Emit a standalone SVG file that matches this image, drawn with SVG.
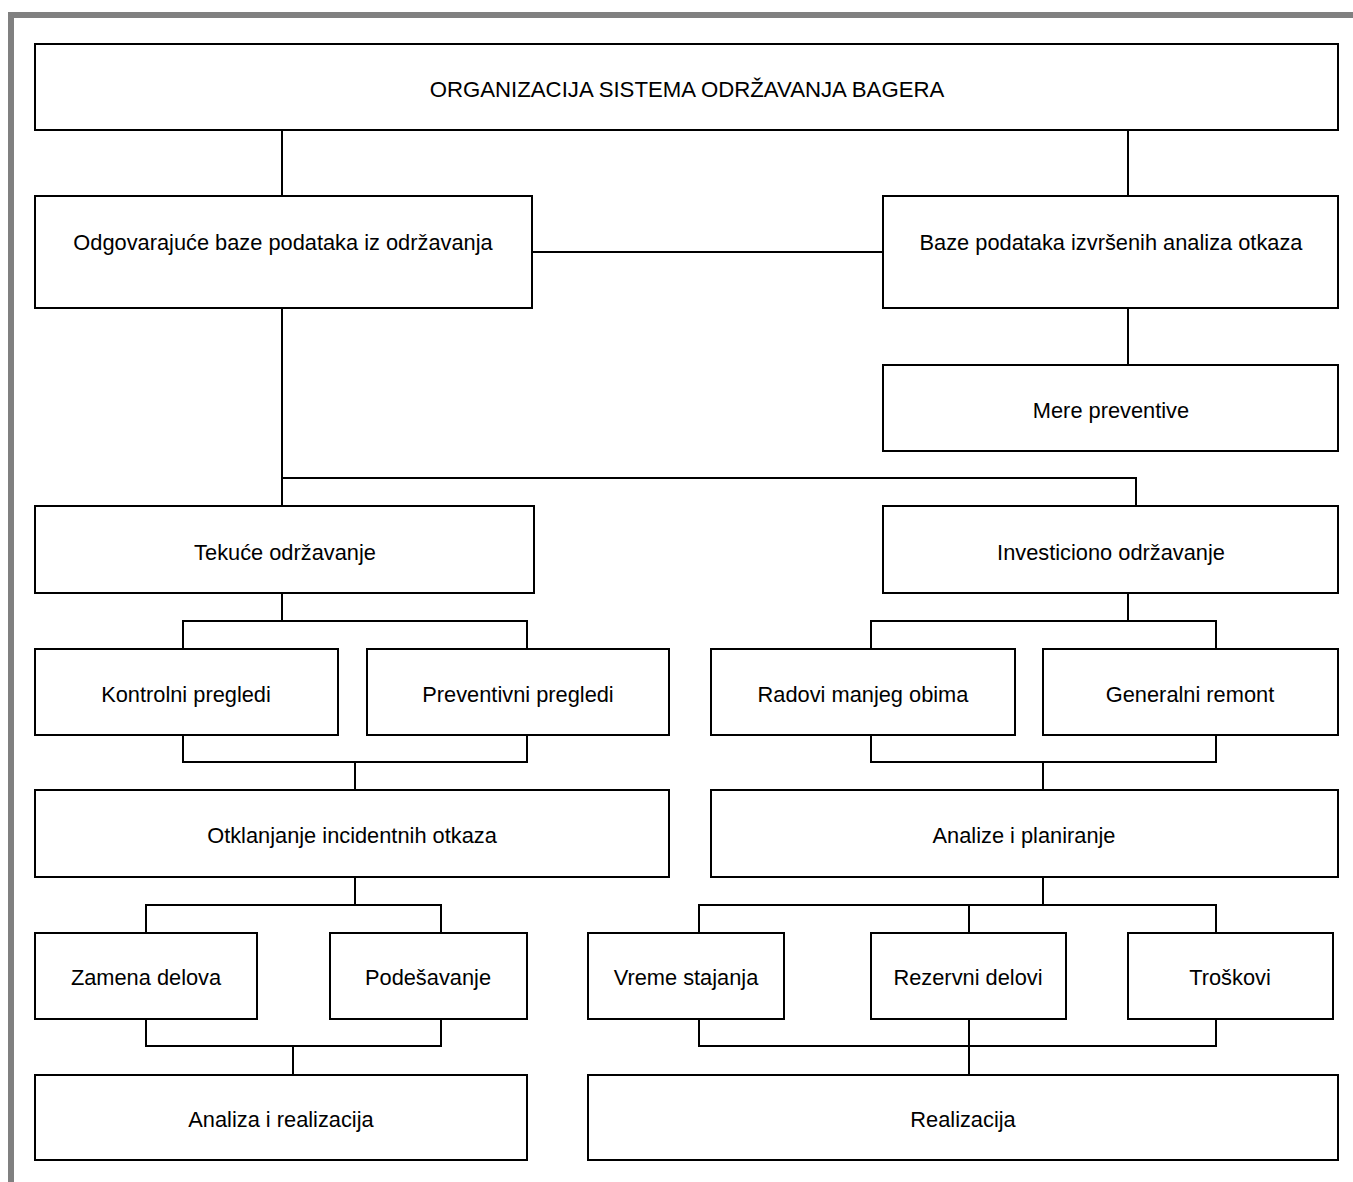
<svg xmlns="http://www.w3.org/2000/svg" width="1353" height="1182" viewBox="0 0 1353 1182">
<style>
.box{fill:#fff;stroke:#000;stroke-width:2}
.lbl{font-family:"Liberation Sans",Arial,sans-serif;font-size:21.8px;fill:#000;text-anchor:middle}
.conn{fill:none;stroke:#000;stroke-width:2}
</style>
<rect x="0" y="0" width="1353" height="1182" fill="#fff"/>
<g id="frame" fill="#808080">
<rect x="8" y="12" width="1345" height="6"/>
<rect x="8" y="12" width="6" height="1170"/>
</g>
<g id="connectors" class="conn">
<path d="M282 130V196M1128 130V196M532 252H883M1128 308V365"/>
<path d="M282 308V506M282 478H1136V506"/>
<path d="M282 593V621M183 649V621H527V649"/>
<path d="M183 735V762H527V735M355 762V790"/>
<path d="M355 877V905M146 933V905H441V933"/>
<path d="M146 1019V1046H441V1019M293 1046V1075"/>
<path d="M1128 593V621M871 649V621H1216V649"/>
<path d="M871 735V762H1216V735M1043 762V790"/>
<path d="M1043 877V905M699 933V905H1216V933M969 905V933"/>
<path d="M699 1019V1046H1216V1019M969 1019V1075"/>
</g>
<g id="n-title"><rect class="box" x="35" y="44" width="1303" height="86"/><text class="lbl" x="687" y="97" style="font-size:22.2px">ORGANIZACIJA SISTEMA ODRŽAVANJA BAGERA</text></g>
<g id="n-odgovarajuce"><rect class="box" x="35" y="196" width="497" height="112"/><text class="lbl" x="283" y="250">Odgovarajuće baze podataka iz održavanja</text></g>
<g id="n-baze"><rect class="box" x="883" y="196" width="455" height="112"/><text class="lbl" x="1111" y="250">Baze podataka izvršenih analiza otkaza</text></g>
<g id="n-mere"><rect class="box" x="883" y="365" width="455" height="86"/><text class="lbl" x="1111" y="418">Mere preventive</text></g>
<g id="n-tekuce"><rect class="box" x="35" y="506" width="499" height="87"/><text class="lbl" x="285" y="560">Tekuće održavanje</text></g>
<g id="n-investiciono"><rect class="box" x="883" y="506" width="455" height="87"/><text class="lbl" x="1111" y="560">Investiciono održavanje</text></g>
<g id="n-kontrolni"><rect class="box" x="35" y="649" width="303" height="86"/><text class="lbl" x="186" y="702">Kontrolni pregledi</text></g>
<g id="n-preventivni"><rect class="box" x="367" y="649" width="302" height="86"/><text class="lbl" x="518" y="702">Preventivni pregledi</text></g>
<g id="n-radovi"><rect class="box" x="711" y="649" width="304" height="86"/><text class="lbl" x="863" y="702">Radovi manjeg obima</text></g>
<g id="n-generalni"><rect class="box" x="1043" y="649" width="295" height="86"/><text class="lbl" x="1190" y="702">Generalni remont</text></g>
<g id="n-otklanjanje"><rect class="box" x="35" y="790" width="634" height="87"/><text class="lbl" x="352" y="843">Otklanjanje incidentnih otkaza</text></g>
<g id="n-analize"><rect class="box" x="711" y="790" width="627" height="87"/><text class="lbl" x="1024" y="843">Analize i planiranje</text></g>
<g id="n-zamena"><rect class="box" x="35" y="933" width="222" height="86"/><text class="lbl" x="146" y="985">Zamena delova</text></g>
<g id="n-podesavanje"><rect class="box" x="330" y="933" width="197" height="86"/><text class="lbl" x="428" y="985">Podešavanje</text></g>
<g id="n-vreme"><rect class="box" x="588" y="933" width="196" height="86"/><text class="lbl" x="686" y="985">Vreme stajanja</text></g>
<g id="n-rezervni"><rect class="box" x="871" y="933" width="195" height="86"/><text class="lbl" x="968" y="985">Rezervni delovi</text></g>
<g id="n-troskovi"><rect class="box" x="1128" y="933" width="205" height="86"/><text class="lbl" x="1230" y="985">Troškovi</text></g>
<g id="n-analiza-realizacija"><rect class="box" x="35" y="1075" width="492" height="85"/><text class="lbl" x="281" y="1127">Analiza i realizacija</text></g>
<g id="n-realizacija"><rect class="box" x="588" y="1075" width="750" height="85"/><text class="lbl" x="963" y="1127">Realizacija</text></g>
</svg>
